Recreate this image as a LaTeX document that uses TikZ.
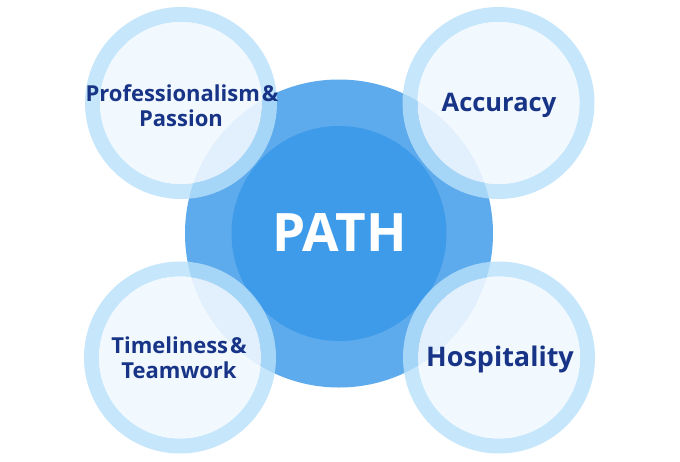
\documentclass[tikz,border=0pt]{standalone}
\usepackage{fontspec}
\setmainfont{Open Sans}
\definecolor{bigout}{RGB}{93,170,236}
\definecolor{bigin}{RGB}{62,155,234}
\definecolor{ringc}{RGB}{184,225,250}
\definecolor{innerc}{RGB}{240,248,254}
\definecolor{navy}{RGB}{24,52,135}
\tikzset{
  ringpart/.style={fill=ringc, fill opacity=0.8, even odd rule},
  innerpart/.style={fill=innerc, fill opacity=0.9},
  lbl/.style={anchor=base, text=navy, font=\bfseries\fontsize{22}{22}\selectfont, inner sep=0pt},
}
\begin{document}
\begin{tikzpicture}[x=1pt,y=-1pt]
\useasboundingbox (0,0) rectangle (680,461);
\fill[white] (0,0) rectangle (680,461);
% central circles
\coordinate (c) at (339,233.5);
\fill[bigout] (c) circle[radius=154pt];
\fill[bigin] (c) circle[radius=107.5pt];
\node[anchor=base, text=white, font=\bfseries\fontsize{53}{53}\selectfont, inner sep=0pt] (path) at (339.5,251.7) {PATH};
% corner circles
\coordinate (tl) at (181,103);
\coordinate (tr) at (498.5,103);
\coordinate (bl) at (180,357.5);
\coordinate (br) at (499,357.5);
\foreach \p in {tl,tr,bl,br}{
  \fill[ringpart] (\p) circle[radius=96pt] (\p) circle[radius=81pt];
  \fill[innerpart] (\p) circle[radius=81pt];
}
\node[lbl] (prof) at (182,101.7) {Professionalism\kern2pt\&};
\node[lbl] (pass) at (181,126.7) {Passion};
\node[lbl, font=\bfseries\fontsize{25.5}{25.5}\selectfont] (acc) at (499,111) {Accuracy};
\node[lbl] (time) at (179,353.3) {Timeliness\kern2pt\&};
\node[lbl] (team) at (179,378.3) {Teamwork};
\node[lbl, font=\bfseries\fontsize{27}{27}\selectfont] (hosp) at (500,366.7) {Hospitality};
\end{tikzpicture}
\end{document}
